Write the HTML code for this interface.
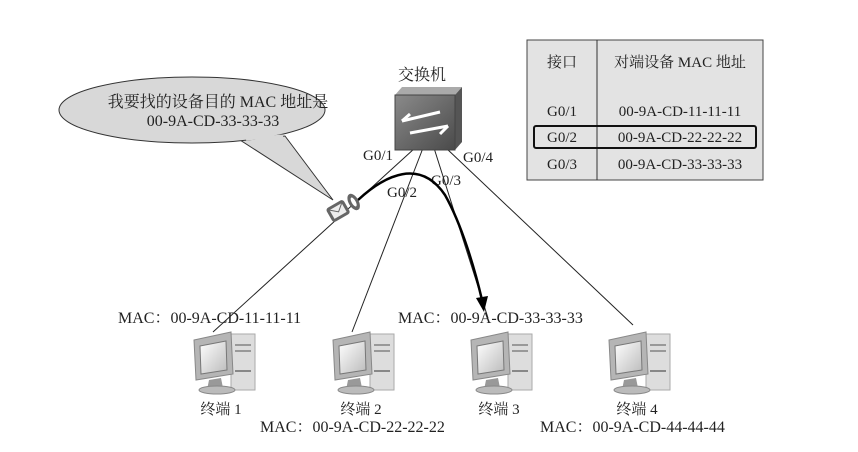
<!DOCTYPE html>
<html><head><meta charset="utf-8"><style>
html,body{margin:0;padding:0;background:#fff;}
svg{display:block;}
text{font-family:"Liberation Serif","Noto Serif CJK SC",serif;fill:#222;}
</style></head><body>
<svg width="858" height="452" viewBox="0 0 858 452" xmlns="http://www.w3.org/2000/svg">
<defs>
<linearGradient id="sw" x1="0" y1="0" x2="1" y2="1"><stop offset="0" stop-color="#8a8a8a"/><stop offset="1" stop-color="#4a4a4a"/></linearGradient>
<linearGradient id="scr" x1="0" y1="0" x2="1" y2="1"><stop offset="0" stop-color="#fff"/><stop offset="1" stop-color="#bbb"/></linearGradient>
<g id="pc">
 <rect x="40" y="2" width="24" height="56" fill="#ddd" stroke="#aaa"/>
 <rect x="44" y="12" width="16" height="2" fill="#999"/>
 <rect x="44" y="18" width="16" height="2" fill="#999"/>
 <rect x="44" y="38" width="16" height="2" fill="#888"/>
 <path d="M3 8 L40 0 L42 42 L5 48 Z" fill="#b5b5b5" stroke="#888"/>
 <path d="M9 14 L35 9 L36 38 L10 42 Z" fill="url(#scr)" stroke="#777"/>
 <path d="M18 48 L30 46 L32 56 L16 58 Z" fill="#999"/>
 <ellipse cx="26" cy="58" rx="18" ry="4" fill="#bbb" stroke="#888"/>
</g>
</defs>
<g stroke="#222" stroke-width="1" fill="none">
 <line x1="415" y1="148" x2="213" y2="332"/>
 <line x1="423" y1="148" x2="352" y2="332"/>
 <line x1="434" y1="148" x2="488" y2="318"/>
 <line x1="446" y1="148" x2="633" y2="325"/>
</g>
<!-- bubble -->
<path d="M285 136 L333 200 L240 140 Z" fill="#d8d8d8" stroke="#333"/>
<ellipse cx="192" cy="110" rx="133" ry="33" fill="#d8d8d8" stroke="#333"/>
<path d="M246 139 L283 136" stroke="#d8d8d8" stroke-width="3"/>
<text x="218" y="107" font-size="16" text-anchor="middle">我要找的设备目的 MAC 地址是</text>
<text x="213" y="126" font-size="16" text-anchor="middle">00-9A-CD-33-33-33</text>
<!-- switch -->
<text x="422" y="80" font-size="16" text-anchor="middle">交换机</text>
<path d="M395 95 L402 87 L462 87 L455 95 Z" fill="#aaa"/>
<path d="M455 95 L462 87 L462 142 L455 150 Z" fill="#555"/>
<rect x="395" y="95" width="60" height="55" fill="url(#sw)" stroke="#444"/>
<g stroke="#fff" stroke-width="3" fill="none">
 <path d="M402 121 L440 112"/><path d="M402 121 L410 114"/>
 <path d="M410 133 L448 126"/><path d="M448 126 L440 134"/>
</g>
<text x="363" y="160" font-size="15">G0/1</text>
<text x="463" y="162" font-size="15">G0/4</text>
<text x="431" y="185" font-size="15">G0/3</text>
<text x="387" y="197" font-size="15">G0/2</text>
<path d="M358 200 C385 175 420 158 445 195 C462 225 475 270 482 300" stroke="#000" stroke-width="2.5" fill="none"/>
<path d="M476 298 L484 312 L488 296 Z" fill="#000"/>
<g transform="rotate(-30 345 207)">
 <rect x="327" y="199" width="20" height="16" rx="3" fill="#666"/>
 <rect x="330" y="202" width="14" height="10" fill="#eee"/>
 <path d="M330 202 L337 208 L344 202" stroke="#666" fill="none"/>
 <ellipse cx="355" cy="207" rx="5" ry="9" fill="#666"/>
 <ellipse cx="355" cy="207" rx="2" ry="5" fill="#fff"/>
</g>
<!-- table -->
<rect x="527" y="40" width="236" height="140" fill="#e3e3e3" stroke="#444"/>
<line x1="597" y1="40" x2="597" y2="180" stroke="#333"/>
<text x="562" y="67" font-size="15" text-anchor="middle">接口</text>
<text x="680" y="67" font-size="15" text-anchor="middle">对端设备 MAC 地址</text>
<text x="562" y="116" font-size="15" text-anchor="middle">G0/1</text>
<text x="680" y="116" font-size="15" text-anchor="middle">00-9A-CD-11-11-11</text>
<rect x="534" y="126" width="222" height="22" rx="2" fill="none" stroke="#111" stroke-width="2"/>
<text x="562" y="142" font-size="15" text-anchor="middle">G0/2</text>
<text x="680" y="142" font-size="15" text-anchor="middle">00-9A-CD-22-22-22</text>
<text x="562" y="169" font-size="15" text-anchor="middle">G0/3</text>
<text x="680" y="169" font-size="15" text-anchor="middle">00-9A-CD-33-33-33</text>
<use href="#pc" x="191" y="332"/>
<use href="#pc" x="330" y="332"/>
<use href="#pc" x="468" y="332"/>
<use href="#pc" x="606" y="332"/>
<text x="118" y="323" font-size="16">MAC：00-9A-CD-11-11-11</text>
<text x="398" y="323" font-size="16">MAC：00-9A-CD-33-33-33</text>
<text x="221" y="414" font-size="15" text-anchor="middle">终端 1</text>
<text x="361" y="414" font-size="15" text-anchor="middle">终端 2</text>
<text x="499" y="414" font-size="15" text-anchor="middle">终端 3</text>
<text x="637" y="414" font-size="15" text-anchor="middle">终端 4</text>
<text x="260" y="432" font-size="16">MAC：00-9A-CD-22-22-22</text>
<text x="540" y="432" font-size="16">MAC：00-9A-CD-44-44-44</text>
</svg>
</body></html>
